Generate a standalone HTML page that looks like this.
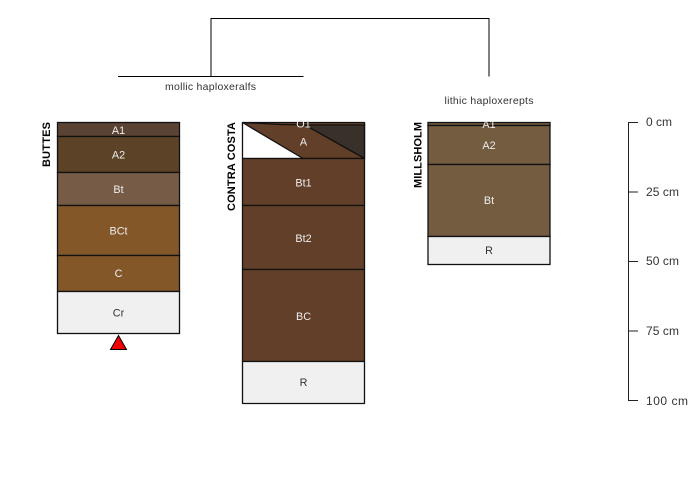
<!DOCTYPE html>
<html>
<head>
<meta charset="utf-8">
<style>
html,body{margin:0;padding:0;background:#fff;}
svg{display:block;}
text{font-family:"Liberation Sans",sans-serif;}
.h{font-size:10.800px;text-anchor:middle;fill:#eeeeee;}
.d{font-size:10.800px;text-anchor:middle;fill:#333;}
.n{font-size:11px;font-weight:bold;fill:#000;}
.t{font-size:10.500px;fill:#333;}
.s{font-size:12px;fill:#333;}
</style>
</head>
<body>
<svg width="700" height="500" viewBox="0 0 700 500" xmlns="http://www.w3.org/2000/svg">
<rect width="700" height="500" fill="#fff"/>
<g fill="none" stroke="#000" stroke-width="1">
<path d="M118 76.500H303.500"/>
<path d="M211 76.500V18.500H489V76.500"/>
</g>
<text class="t" x="165" y="90" textLength="91" lengthAdjust="spacing">mollic haploxeralfs</text>
<text class="t" x="444.500" y="104" textLength="89" lengthAdjust="spacing">lithic haploxerepts</text>

<g stroke="#111" stroke-width="1.300">
<rect x="57.500" y="122.500" width="122" height="14" fill="#5b4334"/>
<rect x="57.500" y="136.500" width="122" height="36" fill="#5c4226"/>
<rect x="57.500" y="172.500" width="122" height="33" fill="#765b46"/>
<rect x="57.500" y="205.500" width="122" height="50" fill="#835728"/>
<rect x="57.500" y="255.500" width="122" height="36" fill="#835728"/>
<rect x="57.500" y="291.500" width="122" height="42" fill="#f0f0f0"/>
</g>
<text class="h" x="118.500" y="134">A1</text>
<text class="h" x="118.500" y="158.500">A2</text>
<text class="h" x="118.500" y="193">Bt</text>
<text class="h" x="118.500" y="234.500">BCt</text>
<text class="h" x="118.500" y="277">C</text>
<text class="d" x="118.500" y="316.500">Cr</text>
<polygon points="118.500,335.500 110.500,349.500 126.500,349.500" fill="#f00000" stroke="#000" stroke-width="1"/>
<text class="n" textLength="45" lengthAdjust="spacing" transform="translate(50,167) rotate(-90)">BUTTES</text>

<g stroke="#111" stroke-width="1.300" stroke-linejoin="bevel">
<rect x="242.500" y="122.500" width="122" height="3" fill="#623f28"/>
<polygon points="242.500,122.500 242.500,158.500 303,158.500" fill="#fff" stroke="none"/>
<polygon points="305,125 364.500,125 364.500,158.500" fill="#3a302a"/>
<polygon points="242.500,122.500 303,158.500 364.500,158.500 305,125 280,124.500" fill="#623f28"/>
<path d="M242.500 122.500V158.500H364.500V122.500" fill="none"/>
<rect x="242.500" y="158.500" width="122" height="47" fill="#623f28"/>
<rect x="242.500" y="205.500" width="122" height="64" fill="#623f28"/>
<rect x="242.500" y="269.500" width="122" height="92" fill="#623f28"/>
<rect x="242.500" y="361.500" width="122" height="42" fill="#f0f0f0"/>
</g>
<text class="h" x="303.500" y="127.500">O1</text>
<text class="h" x="303.500" y="145.500">A</text>
<text class="h" x="303.500" y="186.500">Bt1</text>
<text class="h" x="303.500" y="242">Bt2</text>
<text class="h" x="303.500" y="320">BC</text>
<text class="d" x="303.500" y="386">R</text>
<text class="n" textLength="89" lengthAdjust="spacing" transform="translate(235,211) rotate(-90)">CONTRA COSTA</text>

<g stroke="#111" stroke-width="1.300">
<rect x="428" y="122.500" width="122" height="3" fill="#735c40"/>
<rect x="428" y="125.500" width="122" height="39" fill="#735c40"/>
<rect x="428" y="164.500" width="122" height="72" fill="#735c40"/>
<rect x="428" y="236.500" width="122" height="28" fill="#f0f0f0"/>
</g>
<text class="h" x="489" y="128">A1</text>
<text class="h" x="489" y="149">A2</text>
<text class="h" x="489" y="204">Bt</text>
<text class="d" x="489" y="254">R</text>
<text class="n" textLength="66" lengthAdjust="spacing" transform="translate(421.500,188) rotate(-90)">MILLSHOLM</text>

<g fill="none" stroke="#222" stroke-width="1">
<path d="M638 122.500H628.500V400.500H638"/>
<path d="M628.500 192H638M628.500 261.500H638M628.500 331H638"/>
</g>
<text class="s" x="646" y="126" textLength="26" lengthAdjust="spacing">0 cm</text>
<text class="s" x="646" y="196" textLength="33" lengthAdjust="spacing">25 cm</text>
<text class="s" x="646" y="265" textLength="33" lengthAdjust="spacing">50 cm</text>
<text class="s" x="646" y="335" textLength="33" lengthAdjust="spacing">75 cm</text>
<text class="s" x="646" y="405" textLength="42" lengthAdjust="spacing">100 cm</text>
</svg>
</body>
</html>
